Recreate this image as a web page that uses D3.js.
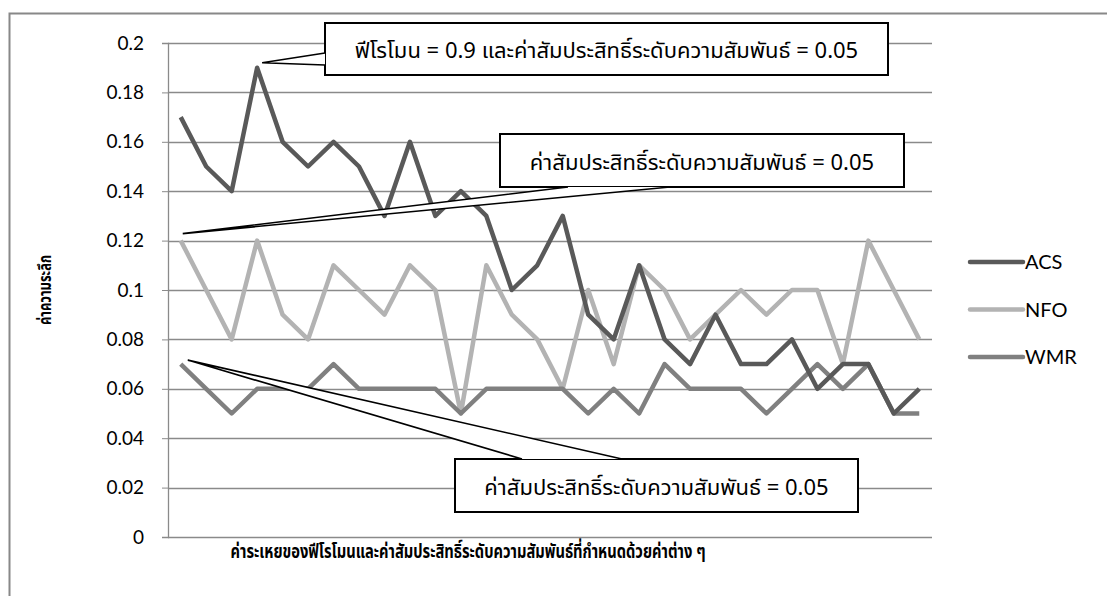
<!DOCTYPE html>
<html lang="th">
<head>
  <meta charset="UTF-8">
  <title>ค่าความระลึก</title>
  <script src="https://d3js.org/d3.v7.min.js"></script>
  <style>
    body { margin: 0; background: #fff; }
    .thai { font-family: "Tahoma", "Noto Sans Thai", "Loma", "Garuda", "Norasi", "Noto Sans", sans-serif; }
  </style>
</head>
<body>
  <div id="chart"></div>

  <script>
    // data
    const categories = ["1","2","3","4","5","6","7","8","9","10","11","12","13","14","15",
                        "16","17","18","19","20","21","22","23","24","25","26","27","28","29","30"];
    const acs = [0.17,0.15,0.14,0.19,0.16,0.15,0.16,0.15,0.13,0.16,0.13,0.14,0.13,0.10,0.11,
                 0.13,0.09,0.08,0.11,0.08,0.07,0.09,0.07,0.07,0.08,0.06,0.07,0.07,0.05,0.06];
    const nfo = [0.12,0.10,0.08,0.12,0.09,0.08,0.11,0.10,0.09,0.11,0.10,0.05,0.11,0.09,0.08,
                 0.06,0.10,0.07,0.11,0.10,0.08,0.09,0.10,0.09,0.10,0.10,0.07,0.12,0.10,0.08];
    const wmr = [0.07,0.06,0.05,0.06,0.06,0.06,0.07,0.06,0.06,0.06,0.06,0.05,0.06,0.06,0.06,
                 0.06,0.05,0.06,0.05,0.07,0.06,0.06,0.06,0.05,0.06,0.07,0.06,0.07,0.05,0.05];
    const seriesNames = ["ACS", "NFO", "WMR"];
    const yTicks = [0,0.02,0.04,0.06,0.08,0.1,0.12,0.14,0.16,0.18,0.2];
    const xTitle = "ค่าระเหยของฟีโรโมนและค่าสัมประสิทธิ์ระดับความสัมพันธ์ที่กำหนดด้วยค่าต่าง ๆ";
    const yTitle = "ค่าความระลึก";
    const calloutTexts = [
      "ฟีโรโมน = 0.9 และค่าสัมประสิทธิ์ระดับความสัมพันธ์ = 0.05",
      "ค่าสัมประสิทธิ์ระดับความสัมพันธ์ = 0.05",
      "ค่าสัมประสิทธิ์ระดับความสัมพันธ์ = 0.05"
    ];

    const W = 1107, H = 596;
    const margin = { top: 43, right: 175, bottom: 59, left: 168 };
    const width = W - margin.left - margin.right;
    const height = H - margin.top - margin.bottom;

    const svg = d3.select("#chart").append("svg")
      .attr("width", W)
      .attr("height", H);

    // outer chart frame (cropped at right/bottom)
    svg.append("rect")
      .attr("x", 9.5).attr("y", 13.5)
      .attr("width", W + 10).attr("height", H + 10)
      .attr("fill", "none")
      .attr("stroke", "#888")
      .attr("stroke-width", 2);

    const g = svg.append("g")
      .attr("transform", "translate(" + margin.left + "," + margin.top + ")");

    const x = d3.scaleBand().domain(categories).range([0, width]);
    const y = d3.scaleLinear().domain([0, 0.2]).range([height, 0]);

    // gridlines
    g.append("g")
      .selectAll("line")
      .data(yTicks)
      .enter().append("line")
        .attr("x1", 0).attr("x2", width)
        .attr("y1", d => Math.round(y(d)) + 0.5)
        .attr("y2", d => Math.round(y(d)) + 0.5)
        .attr("stroke", "#8a8a8a")
        .attr("stroke-width", 1.3);

    // y axis
    const yAxis = g.append("g")
      .call(d3.axisLeft(y).tickValues(yTicks).tickSize(6).tickPadding(18)
        .tickFormat(d => d3.format("~g")(d)));
    yAxis.select(".domain").attr("stroke", "#8a8a8a").attr("stroke-width", 1.3);
    yAxis.selectAll(".tick line").attr("stroke", "#8a8a8a");
    yAxis.selectAll("text")
      .style("font-family", "Lato, 'Liberation Sans', sans-serif")
      .style("font-size", "19px")
      .attr("fill", "#000");

    // lines
    const colors = { ACS: "#595959", NFO: "#b3b3b3", WMR: "#808080" };
    const seriesData = { ACS: acs, NFO: nfo, WMR: wmr };
    const line = d3.line()
      .x((d, i) => x(categories[i]) + x.bandwidth() / 2)
      .y(d => y(d));

    ["NFO", "WMR", "ACS"].forEach(name => {
      g.append("path")
        .datum(seriesData[name])
        .attr("fill", "none")
        .attr("stroke", colors[name])
        .attr("stroke-width", 4.5)
        .attr("stroke-linejoin", "round")
        .attr("d", line);
    });

    // callouts: box in chart px, tip attached to a data point
    const callouts = [
      { text: calloutTexts[0], series: "ACS", idx: 3, dx: 5, dy: -5,
        box: [325, 23, 563, 52], base: [[325, 53], [325, 65]] },
      { text: calloutTexts[1], series: "NFO", idx: 0, dx: 2, dy: -7,
        box: [500, 134, 404, 53], base: [[568, 187], [670, 187]] },
      { text: calloutTexts[2], series: "WMR", idx: 0, dx: 7, dy: -4,
        box: [455, 459, 403, 53], base: [[522, 459], [622, 459]] }
    ];

    callouts.forEach(c => {
      const tx = margin.left + x(categories[c.idx]) + x.bandwidth() / 2 + c.dx;
      const ty = margin.top + y(seriesData[c.series][c.idx]) + c.dy;
      const [bx, by, bw, bh] = c.box;
      svg.append("rect")
        .attr("x", bx).attr("y", by)
        .attr("width", bw).attr("height", bh)
        .attr("fill", "#fff")
        .attr("stroke", "#000")
        .attr("stroke-width", 2);
      svg.append("path")
        .attr("d", "M" + c.base[0] + "L" + tx + "," + ty + "L" + c.base[1])
        .attr("fill", "#fff")
        .attr("stroke", "#000")
        .attr("stroke-width", 1.6);
      svg.append("text")
        .attr("class", "thai")
        .attr("x", bx + bw / 2)
        .attr("y", by + bh / 2 + 9)
        .attr("text-anchor", "middle")
        .style("font-size", "22px")
        .attr("fill", "#000")
        .text(c.text);
    });

    // legend
    const legend = svg.append("g").attr("transform", "translate(970,0)");
    seriesNames.forEach((name, i) => {
      const ly = 262 + i * 47.5;
      legend.append("line")
        .attr("x1", 0).attr("x2", 53)
        .attr("y1", ly).attr("y2", ly)
        .attr("stroke", colors[name])
        .attr("stroke-width", 4.5)
        .attr("stroke-linecap", "round");
      legend.append("text")
        .attr("x", 55).attr("y", ly + 7)
        .style("font-family", "Lato, 'Liberation Sans', sans-serif")
        .style("font-size", "20px")
        .text(name);
    });

    // axis titles
    svg.append("text")
      .attr("class", "thai")
      .attr("x", 468).attr("y", 558)
      .attr("text-anchor", "middle")
      .attr("textLength", 475)
      .attr("lengthAdjust", "spacingAndGlyphs")
      .style("font-size", "19px")
      .style("font-weight", "bold")
      .text(xTitle);

    svg.append("text")
      .attr("class", "thai")
      .attr("transform", "translate(51,290) rotate(-90)")
      .attr("text-anchor", "middle")
      .attr("textLength", 70)
      .attr("lengthAdjust", "spacingAndGlyphs")
      .style("font-size", "17px")
      .style("font-weight", "bold")
      .text(yTitle);
  </script>
</body>
</html>
